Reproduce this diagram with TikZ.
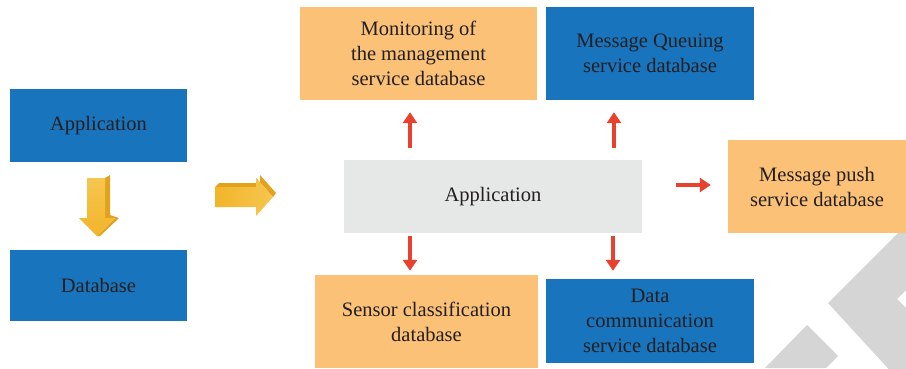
\documentclass[tikz,border=0pt]{standalone}
\usepackage{fontspec}
\setmainfont{Liberation Serif}
\usetikzlibrary{arrows.meta}
\definecolor{bluebox}{HTML}{1874BD}
\definecolor{orangebox}{HTML}{FBC177}
\definecolor{graybox}{HTML}{E6E7E7}
\definecolor{redarr}{HTML}{E8412E}
\definecolor{txt}{HTML}{231F20}
\definecolor{yelA}{HTML}{F6C550}
\definecolor{yelB}{HTML}{F2B52A}
\definecolor{yelC}{HTML}{E3A21E}
\definecolor{wmark}{HTML}{D5D5D5}
\tikzset{
  box/.style={inner sep=0pt, align=center, text=txt,
    font=\fontsize{20.5}{25}\selectfont},
  bluestyle/.style={box, fill=bluebox},
  orangestyle/.style={box, fill=orangebox},
  graystyle/.style={box, fill=graybox},
  redarrow/.style={draw=redarr, line width=3.5pt,
    -{Triangle[length=11pt,width=14pt]}},
}
\begin{document}
\begin{tikzpicture}[x=1pt,y=1pt]
\useasboundingbox (0,0) rectangle (906,368);
% watermark
\begin{scope}
\clip (0,0) rectangle (906,368);
\fill[wmark] (828,65) -- (906,143) -- (906,78) -- (897,69) -- (906,60) -- (906,-20) -- cycle;
\fill[wmark] (807,43) -- (838,12) -- (826,0) -- (765,0) -- cycle;
\end{scope}
% boxes
\node[bluestyle, minimum width=177pt, minimum height=73pt] (app1) at (98.5,242.5) {Application};
\node[bluestyle, minimum width=177pt, minimum height=71pt] (db) at (98.5,82.5) {Database};
\node[graystyle, minimum width=298pt, minimum height=73pt] (app) at (493,171.5) {Application};
\node[orangestyle, minimum width=237pt, minimum height=93pt] (mon) at (418.5,314.5) {Monitoring of\\the management\\service database};
\node[bluestyle, minimum width=208pt, minimum height=93pt] (mq) at (650,314.5) {Message Queuing\\service database};
\node[orangestyle, minimum width=178pt, minimum height=93pt] (push) at (817,181.5) {Message push\\service database};
\node[orangestyle, minimum width=223pt, minimum height=93pt] (sens) at (426.5,46.5) {Sensor classification\\database};
\node[bluestyle, minimum width=208pt, minimum height=84pt] (data) at (650,47) {Data\\communication\\service database};
% yellow 3D arrows
\fill[yelC] (105,190) -- (110,193) -- (110,153) -- (119,150) -- (100,132) -- (97,132) -- (115,150) -- (105,150) -- cycle;
\shade[top color=yelA, bottom color=yelB] (87,190) -- (105,190) -- (105,150) -- (115,150) -- (97,132) -- (79,150) -- (87,150) -- cycle;
\fill[yelC] (215,181) -- (219,185) -- (260,185) -- (260,193) -- (276,175) -- (273,171) -- (256,190) -- (256,181) -- cycle;
\shade[left color=yelB, right color=yelA] (215,181) -- (256,181) -- (256,190) -- (273,171) -- (256,152) -- (256,161) -- (215,161) -- cycle;
% red arrows
\draw[redarrow, shorten <=12pt, shorten >=12pt] (app.north -| 410,0) -- (mon.south -| 410,0);
\draw[redarrow, shorten <=12pt, shorten >=12pt] (app.north -| 614,0) -- (mq.south -| 614,0);
\draw[redarrow, shorten <=3pt, shorten >=4pt] (app.south -| 410,0) -- (sens.north -| 410,0);
\draw[redarrow, shorten <=3pt, shorten >=8pt] (app.south -| 613,0) -- (data.north -| 613,0);
\draw[redarrow, shorten <=34pt, shorten >=17pt] (app.east |- 0,183) -- (push.west |- 0,183);
\end{tikzpicture}
\end{document}
